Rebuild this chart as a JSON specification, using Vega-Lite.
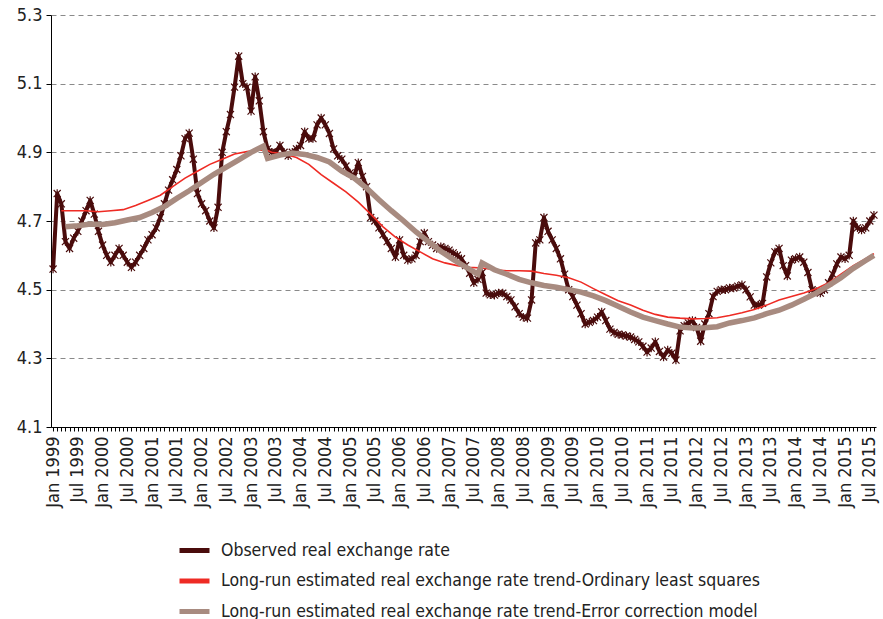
{
"$schema": "https://vega.github.io/schema/vega-lite/v6.json",
"width": 825, "height": 412,
"autosize": {"type": "none"},
"padding": {"left": 51, "top": 15, "right": 7, "bottom": 192},
"background": "white",
"config": {
  "font": "Liberation Sans Narrow, DejaVu Sans Condensed, sans-serif",
  "view": {"stroke": null},
  "axisX": {"labelAngle": -90, "labelAlign": "right", "labelBaseline": "middle", "labelFontSize": 18, "labelColor": "#222", "labelPadding": 5, "tickSize": 4, "tickColor": "#000", "domainColor": "#000", "domainWidth": 1, "grid": false, "labelOverlap": false, "labelFlush": false, "title": null},
  "axisY": {"labelFontSize": 18, "labelColor": "#222", "labelPadding": 4, "tickSize": 5, "tickColor": "#000", "domainColor": "#000", "gridColor": "#8a8a8a", "gridDash": [5, 4], "gridWidth": 1, "title": null},
  "legend": {"orient": "none", "legendX": 126, "legendY": 518, "title": null, "direction": "vertical", "symbolType": "stroke", "symbolSize": 900, "symbolStrokeWidth": 5, "labelFontSize": 17.5, "labelColor": "#222", "labelOffset": 9, "rowPadding": 2.5, "labelLimit": 700}
},
"data": {"values": [
{"d":"1999-01","o":4.56},{"d":"1999-02","o":4.78},{"d":"1999-03","o":4.75,"l":4.73},{"d":"1999-04","o":4.64,"e":4.683},
{"d":"1999-05","o":4.62},{"d":"1999-06","o":4.65,"l":4.73},{"d":"1999-07","o":4.67,"e":4.686},{"d":"1999-08","o":4.70},
{"d":"1999-09","o":4.73,"l":4.73},{"d":"1999-10","o":4.76,"e":4.691},{"d":"1999-11","o":4.72},{"d":"1999-12","o":4.67,"l":4.727},
{"d":"2000-01","o":4.63,"e":4.69},{"d":"2000-02","o":4.60},{"d":"2000-03","o":4.58,"l":4.73},{"d":"2000-04","o":4.60,"e":4.695},
{"d":"2000-05","o":4.62},{"d":"2000-06","o":4.60,"l":4.733},{"d":"2000-07","o":4.58,"e":4.703},{"d":"2000-08","o":4.565},
{"d":"2000-09","o":4.58,"l":4.745},{"d":"2000-10","o":4.60,"e":4.71},{"d":"2000-11","o":4.62},{"d":"2000-12","o":4.645,"l":4.76},
{"d":"2001-01","o":4.66,"e":4.725},{"d":"2001-02","o":4.68},{"d":"2001-03","o":4.71,"l":4.775},{"d":"2001-04","o":4.75,"e":4.742},
{"d":"2001-05","o":4.79},{"d":"2001-06","o":4.82,"l":4.80},{"d":"2001-07","o":4.85,"e":4.766},{"d":"2001-08","o":4.89},
{"d":"2001-09","o":4.94,"l":4.825},{"d":"2001-10","o":4.956,"e":4.788},{"d":"2001-11","o":4.88},{"d":"2001-12","o":4.78,"l":4.845},
{"d":"2002-01","o":4.75,"e":4.812},{"d":"2002-02","o":4.73},{"d":"2002-03","o":4.70,"l":4.865},{"d":"2002-04","o":4.68,"e":4.836},
{"d":"2002-05","o":4.74},{"d":"2002-06","o":4.90,"l":4.88},{"d":"2002-07","o":4.96,"e":4.857},{"d":"2002-08","o":5.01},
{"d":"2002-09","o":5.09,"l":4.895},{"d":"2002-10","o":5.18,"e":4.878},{"d":"2002-11","o":5.10},{"d":"2002-12","o":5.09,"l":4.902},
{"d":"2003-01","o":5.02,"e":4.90},{"d":"2003-02","o":5.12},{"d":"2003-03","o":5.05,"l":4.907},{"d":"2003-04","o":4.96,"e":4.918},
{"d":"2003-05","o":4.91,"l":4.905,"e":4.882},{"d":"2003-06","o":4.90,"l":4.90},{"d":"2003-07","o":4.90},{"d":"2003-08","o":4.92,"e":4.892},
{"d":"2003-09","o":4.90,"l":4.895},{"d":"2003-10","o":4.89},{"d":"2003-11","o":4.90,"e":4.898},{"d":"2003-12","o":4.91,"l":4.885},
{"d":"2004-01","o":4.92},{"d":"2004-02","o":4.96,"e":4.894},{"d":"2004-03","o":4.94,"l":4.865},{"d":"2004-04","o":4.94},
{"d":"2004-05","o":4.98,"e":4.885},{"d":"2004-06","o":5.00,"l":4.835},{"d":"2004-07","o":4.98},{"d":"2004-08","o":4.955,"e":4.872},
{"d":"2004-09","o":4.91,"l":4.81},{"d":"2004-10","o":4.89},{"d":"2004-11","o":4.88,"e":4.845},{"d":"2004-12","o":4.86,"l":4.785},
{"d":"2005-01","o":4.84},{"d":"2005-02","o":4.83,"e":4.825},{"d":"2005-03","o":4.87,"l":4.755},{"d":"2005-04","o":4.83},
{"d":"2005-05","o":4.80,"e":4.796},{"d":"2005-06","o":4.71,"l":4.72},{"d":"2005-07","o":4.70},{"d":"2005-08","o":4.68,"e":4.762},
{"d":"2005-09","o":4.66,"l":4.683},{"d":"2005-10","o":4.64},{"d":"2005-11","o":4.62,"e":4.73},{"d":"2005-12","o":4.595,"l":4.653},
{"d":"2006-01","o":4.645},{"d":"2006-02","o":4.60,"e":4.70},{"d":"2006-03","o":4.586,"l":4.63},{"d":"2006-04","o":4.59},
{"d":"2006-05","o":4.60,"e":4.668},{"d":"2006-06","o":4.64,"l":4.61},{"d":"2006-07","o":4.665},{"d":"2006-08","o":4.64,"e":4.64},
{"d":"2006-09","o":4.63,"l":4.59},{"d":"2006-10","o":4.62},{"d":"2006-11","o":4.625,"e":4.612},{"d":"2006-12","o":4.62,"l":4.578},
{"d":"2007-01","o":4.615},{"d":"2007-02","o":4.607,"e":4.588},{"d":"2007-03","o":4.60,"l":4.57},{"d":"2007-04","o":4.59},
{"d":"2007-05","o":4.57,"e":4.566},{"d":"2007-06","o":4.548,"l":4.565},{"d":"2007-07","o":4.52},{"d":"2007-08","o":4.53,"e":4.545},
{"d":"2007-09","o":4.55,"l":4.563,"e":4.578},{"d":"2007-10","o":4.49},{"d":"2007-11","o":4.485},{"d":"2007-12","o":4.484,"l":4.558,"e":4.558},
{"d":"2008-01","o":4.49},{"d":"2008-02","o":4.49},{"d":"2008-03","o":4.48,"l":4.555,"e":4.545},{"d":"2008-04","o":4.47},
{"d":"2008-05","o":4.45},{"d":"2008-06","o":4.43,"l":4.555,"e":4.53},{"d":"2008-07","o":4.42},{"d":"2008-08","o":4.417},
{"d":"2008-09","o":4.47,"l":4.554,"e":4.52},{"d":"2008-10","o":4.636},{"d":"2008-11","o":4.645},{"d":"2008-12","o":4.71,"l":4.547,"e":4.512},
{"d":"2009-01","o":4.67},{"d":"2009-02","o":4.645},{"d":"2009-03","o":4.62,"l":4.542,"e":4.507},{"d":"2009-04","o":4.59},
{"d":"2009-05","o":4.545},{"d":"2009-06","o":4.50,"l":4.535,"e":4.50},{"d":"2009-07","o":4.48},{"d":"2009-08","o":4.455},
{"d":"2009-09","o":4.43,"l":4.522,"e":4.493},{"d":"2009-10","o":4.40},{"d":"2009-11","o":4.405},{"d":"2009-12","o":4.41,"l":4.503,"e":4.482},
{"d":"2010-01","o":4.42},{"d":"2010-02","o":4.435},{"d":"2010-03","o":4.41,"l":4.485,"e":4.468},{"d":"2010-04","o":4.385},
{"d":"2010-05","o":4.375},{"d":"2010-06","o":4.37,"l":4.468,"e":4.452},{"d":"2010-07","o":4.368},{"d":"2010-08","o":4.365},
{"d":"2010-09","o":4.362,"l":4.455,"e":4.435},{"d":"2010-10","o":4.355},{"d":"2010-11","o":4.348},{"d":"2010-12","o":4.335,"l":4.44,"e":4.42},
{"d":"2011-01","o":4.318},{"d":"2011-02","o":4.33},{"d":"2011-03","o":4.348,"l":4.428,"e":4.41},{"d":"2011-04","o":4.32},
{"d":"2011-05","o":4.304},{"d":"2011-06","o":4.324,"l":4.42,"e":4.40},{"d":"2011-07","o":4.315},{"d":"2011-08","o":4.295},
{"d":"2011-09","o":4.38,"l":4.417,"e":4.391},{"d":"2011-10","o":4.395},{"d":"2011-11","o":4.403},{"d":"2011-12","o":4.41,"l":4.415,"e":4.388},
{"d":"2012-01","o":4.39},{"d":"2012-02","o":4.35},{"d":"2012-03","o":4.40,"l":4.416,"e":4.389},{"d":"2012-04","o":4.43},
{"d":"2012-05","o":4.48},{"d":"2012-06","o":4.495,"l":4.418,"e":4.392},{"d":"2012-07","o":4.50},{"d":"2012-08","o":4.50},
{"d":"2012-09","o":4.505,"l":4.425,"e":4.403},{"d":"2012-10","o":4.505},{"d":"2012-11","o":4.51},{"d":"2012-12","o":4.514,"l":4.433,"e":4.41},
{"d":"2013-01","o":4.50},{"d":"2013-02","o":4.479},{"d":"2013-03","o":4.455,"l":4.442,"e":4.418},{"d":"2013-04","o":4.455},
{"d":"2013-05","o":4.46},{"d":"2013-06","o":4.537,"l":4.455,"e":4.43},{"d":"2013-07","o":4.578},{"d":"2013-08","o":4.61},
{"d":"2013-09","o":4.62,"l":4.47,"e":4.44},{"d":"2013-10","o":4.57},{"d":"2013-11","o":4.54},{"d":"2013-12","o":4.586,"l":4.48,"e":4.455},
{"d":"2014-01","o":4.59},{"d":"2014-02","o":4.595},{"d":"2014-03","o":4.58,"l":4.49,"e":4.472},{"d":"2014-04","o":4.55},
{"d":"2014-05","o":4.50},{"d":"2014-06","o":4.495,"l":4.503,"e":4.49},{"d":"2014-07","o":4.49},{"d":"2014-08","o":4.50},
{"d":"2014-09","o":4.52,"l":4.52,"e":4.512},{"d":"2014-10","o":4.545},{"d":"2014-11","o":4.575},{"d":"2014-12","o":4.595,"l":4.545,"e":4.535},
{"d":"2015-01","o":4.59},{"d":"2015-02","o":4.60},{"d":"2015-03","o":4.70,"l":4.57,"e":4.562},{"d":"2015-04","o":4.68},
{"d":"2015-05","o":4.674},{"d":"2015-06","o":4.68,"l":4.59,"e":4.585},{"d":"2015-07","o":4.70},{"d":"2015-08","o":4.717,"l":4.605,"e":4.60}
]},
"encoding": {
  "x": {"field": "d", "type": "ordinal", "scale": {"type": "point", "padding": 0.5}, "title": null,
        "axis": {"labelExpr": "substring(datum.value,5,7)=='01' ? 'Jan ' + substring(datum.value,0,4) : (substring(datum.value,5,7)=='07' ? 'Jul ' + substring(datum.value,0,4) : '')"}}
},
"layer": [
  {
    "mark": {"type": "line", "strokeWidth": 4, "strokeJoin": "round"},
    "encoding": {
      "y": {"field": "o", "type": "quantitative", "scale": {"domain": [4.1, 5.3], "nice": false, "zero": false}, "title": null,
            "axis": {"values": [4.1, 4.3, 4.5, 4.7, 4.9, 5.1, 5.3], "format": ".1f", "grid": true}},
      "color": {"datum": "Observed real exchange rate", "type": "nominal",
        "scale": {"domain": ["Observed real exchange rate", "Long-run estimated real exchange rate trend-Ordinary least squares", "Long-run estimated real exchange rate trend-Error correction model"], "range": ["#4a0c0c", "#ee2b24", "#a88b80"]}}
    }
  },
  {
    "mark": {"type": "point", "shape": "M-1,-1L1,1M1,-1L-1,1M0,-1.2L0,1.2", "filled": false, "size": 50, "strokeWidth": 1.2, "color": "#4a0c0c", "opacity": 1},
    "encoding": {
      "y": {"field": "o", "type": "quantitative"}
    }
  },
  {
    "transform": [{"filter": "isValid(datum.l)"}],
    "mark": {"type": "line", "strokeWidth": 1.6},
    "encoding": {
      "y": {"field": "l", "type": "quantitative"},
      "color": {"datum": "Long-run estimated real exchange rate trend-Ordinary least squares", "type": "nominal"}
    }
  },
  {
    "transform": [{"filter": "isValid(datum.e)"}],
    "mark": {"type": "line", "strokeWidth": 5.5},
    "encoding": {
      "y": {"field": "e", "type": "quantitative"},
      "color": {"datum": "Long-run estimated real exchange rate trend-Error correction model", "type": "nominal"}
    }
  }
]
}
